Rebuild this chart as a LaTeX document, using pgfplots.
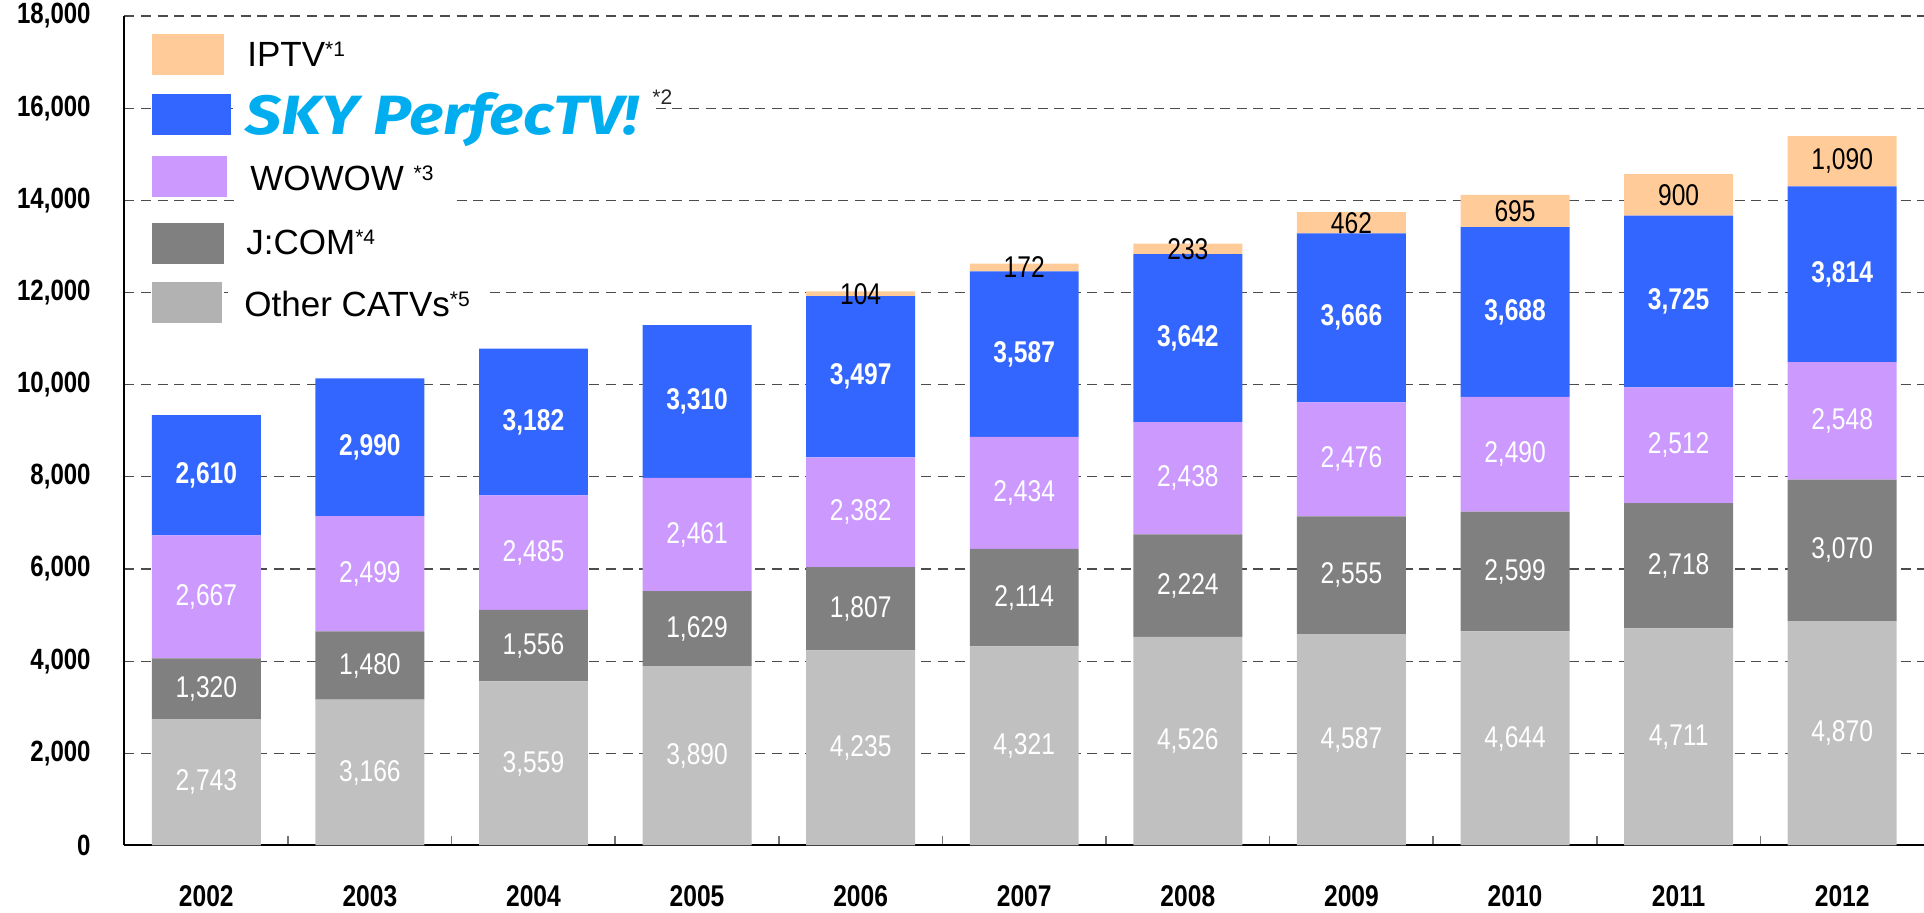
\documentclass[border=0pt]{standalone}
\usepackage{pgfplots}
\pgfplotsset{compat=1.18}
\usepackage{pgfplotstable}
\usepackage{graphicx}
\usepackage{fontspec}
\setmainfont{Liberation Sans}
\newfontfamily\narrow{Liberation Sans}[FakeStretch=0.82]
\newfontfamily\logofont{Fira Sans}
\definecolor{iptv}{HTML}{FFCC99}
\definecolor{sky}{HTML}{3366FF}
\definecolor{wowow}{HTML}{CC99FF}
\definecolor{jcom}{HTML}{808080}
\definecolor{other}{HTML}{C0C0C0}
\definecolor{otherleg}{HTML}{B2B2B2}
\definecolor{logo}{HTML}{00AEEF}
\pgfplotstableread{
x other jcom wowow sky iptv
0 2743 1320 2667 2610 0
1 3166 1480 2499 2990 0
2 3559 1556 2485 3182 0
3 3890 1629 2461 3310 0
4 4235 1807 2382 3497 104
5 4321 2114 2434 3587 172
6 4526 2224 2438 3642 233
7 4587 2555 2476 3666 462
8 4644 2599 2490 3688 695
9 4711 2718 2512 3725 900
10 4870 3070 2548 3814 1090
}\data
\pgfplotsset{
 seg/.style n args={4}{fill=#1, draw=none,
   visualization depends on={\thisrow{#2}\as\segval},
   nodes near coords={\ifdim\segval pt>0.5pt \pgfmathprintnumber{\segval}\fi},
   every node near coord/.append style={font=\narrow#4\fontsize{15}{15}\selectfont, text=#3,
     anchor=center, inner sep=0pt}},
}
\newcommand\sups[1]{\raisebox{5pt}{\fontsize{10.5}{10.5}\selectfont #1}}
\begin{document}
\begin{tikzpicture}
\useasboundingbox (0,0) rectangle (962pt,-456.5pt);
\begin{axis}[
 at={(62.25pt,-422.75pt)}, anchor=south west,
 width=899.75pt, height=414.75pt, scale only axis,
 ybar stacked, bar width=0.666,
 xmin=-0.5, xmax=10.5, ymin=0, ymax=18000,
 xtick={0,1,2,3,4,5,6,7,8,9,10},
 xticklabels={2002,2003,2004,2005,2006,2007,2008,2009,2010,2011,2012},
 minor xtick={0.5,1.5,2.5,3.5,4.5,5.5,6.5,7.5,8.5,9.5},
 ytick={0,2000,4000,6000,8000,10000,12000,14000,16000,18000},
 scaled y ticks=false,
 major tick length=0pt, minor tick length=4.5pt, tick align=inside,
 minor tick style={draw=black!55, line width=0.8pt},
 axis x line*=bottom, axis y line*=left,
 axis line style={line width=1pt, black},
 ymajorgrids, grid style={dash pattern=on 5pt off 3.3pt, line width=0.65pt, color=black!70},
 /pgf/number format/1000 sep={,}, /pgf/number format/assume math mode=true,
 /pgf/number format/fixed, /pgf/number format/precision=0,
 yticklabel style={font=\narrow\bfseries\fontsize{14.65}{15}\selectfont, inner sep=0pt, anchor=east},
 yticklabel shift=16.75pt,
 xticklabel style={font=\narrow\bfseries\fontsize{15}{15}\selectfont, inner sep=0pt, anchor=north},
 xticklabel shift=19.75pt,
 clip=false,
]
\addplot[seg={other}{other}{white}{\mdseries}] table[x=x,y=other]{\data};
\addplot[seg={jcom}{jcom}{white}{\mdseries}] table[x=x,y=jcom]{\data};
\addplot[seg={wowow}{wowow}{white}{\mdseries}] table[x=x,y=wowow]{\data};
\addplot[seg={sky}{sky}{white}{\bfseries}] table[x=x,y=sky]{\data};
\addplot[seg={iptv}{iptv}{black}{\mdseries}] table[x=x,y=iptv]{\data};
\end{axis}
\begin{scope}[x=0.5pt,y=-0.5pt]
\tikzset{legtext/.style={anchor=base west, inner xsep=8pt, inner ysep=5pt, fill=white, text=black, font=\fontsize{17.5}{17.5}\selectfont}}
\node[legtext] at (231,67) {IPTV\sups{*1}};
\node[anchor=base west, inner xsep=6pt, inner ysep=5pt, fill=white, text=logo] at (233,135) {\resizebox{196.5pt}{21pt}{\logofont\bfseries\itshape SKY PerfecTV!}};
\node[anchor=base west, inner sep=0pt, text=black!85, font=\fontsize{10.5}{10.5}\selectfont] at (652,105) {*2};
\node[legtext] at (234,191) {WOWOW \sups{*3}};
\node[legtext] at (230,255) {J:COM\sups{*4}};
\node[legtext] at (228,317) {Other CATVs\sups{*5}};
\fill[iptv] (152,34) rectangle (224,75);
\fill[sky] (152,94) rectangle (231,135);
\fill[wowow] (152,156) rectangle (227,197);
\fill[jcom] (152,223) rectangle (224,264);
\fill[otherleg] (152,282) rectangle (222,323);
\end{scope}
\end{tikzpicture}
\end{document}
